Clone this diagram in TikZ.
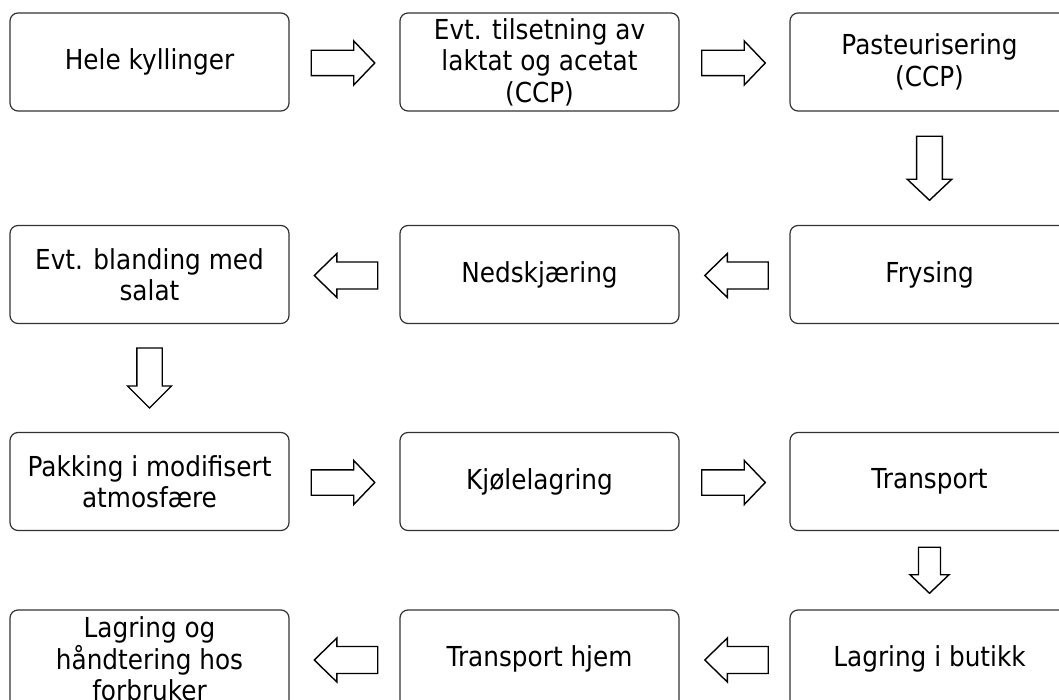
\documentclass[tikz,border=0pt]{standalone}
\usepackage{fontspec}
\setmainfont{DejaVu Sans}[FakeStretch=0.9]
\usetikzlibrary{calc}
\tikzset{
  box/.style={draw=black!80, line width=1.2pt, rounded corners=8pt,
    minimum width=279pt, minimum height=98pt, inner sep=0pt, align=center,
    font=\fontsize{27.5}{31.5}\selectfont},
  barrow/.style={draw=black, line width=1.4pt, fill=white, line join=miter},
}
% #1 centre, #2 rotation, #3 length, #4 shaft half width, #5 head half width, #6 head length
\newcommand{\blockarr}[6]{%
  \draw[barrow,shift={#1},rotate=#2] ({-#3/2},{-#4}) -- ({#3/2-#6},{-#4}) -- ({#3/2-#6},{-#5})
    -- ({#3/2},0) -- ({#3/2-#6},{#5}) -- ({#3/2-#6},{#4}) -- ({-#3/2},{#4}) -- cycle;}
\begin{document}
\begin{tikzpicture}[x=1pt,y=-1pt]
\useasboundingbox (0,0) rectangle (1059,700);
% row 1
\node[box] (a1) at (149.5,62) {Hele kyllinger};
\node[box] (a2) at (539.5,62) {Evt. tilsetning av\\laktat og acetat\\(CCP)};
\node[box] (a3) at (929.5,62) {Pasteurisering\\(CCP)};
% row 2
\node[box] (b1) at (149.5,274.5) {Evt. blanding med\\salat};
\node[box] (b2) at (539.5,274.5) {Nedskjæring};
\node[box] (b3) at (929.5,274.5) {Frysing};
% row 3
\node[box] (c1) at (149.5,481.5) {Pakking i modifisert\\atmosfære};
\node[box] (c2) at (539.5,481.5) {Kjølelagring};
\node[box] (c3) at (929.5,481.5) {Transport};
% row 4
\node[box] (d1) at (149.5,659) {Lagring og\\håndtering hos\\forbruker};
\node[box] (d2) at (539.5,659) {Transport hjem};
\node[box] (d3) at (929.5,659) {Lagring i butikk};
% arrows
\blockarr{($(a1.east)!0.5!(a2.west)+(-1.5,1)$)}{0}{63.5}{12.7}{22}{21}
\blockarr{($(a2.east)!0.5!(a3.west)+(-1,1)$)}{0}{63.5}{12.7}{22}{21}
\blockarr{($(a3.south)!0.5!(b3.north)$)}{-90}{64}{12.9}{22.3}{21}
\blockarr{($(b3.west)!0.5!(b2.east)+(2,1)$)}{180}{63.5}{13.5}{22}{22.6}
\blockarr{($(b2.west)!0.5!(b1.east)+(1.5,1)$)}{180}{63.5}{13.5}{22}{22.6}
\blockarr{($(b1.south)!0.5!(c1.north)$)}{-90}{60}{12.7}{22}{22}
\blockarr{($(c1.east)!0.5!(c2.west)+(-1.5,1)$)}{0}{63.5}{12.7}{22}{21}
\blockarr{($(c2.east)!0.5!(c3.west)+(-1,1)$)}{0}{63.5}{12.7}{22}{21}
\blockarr{($(c3.south)!0.5!(d3.north)$)}{-90}{46}{11}{19.5}{18.5}
\blockarr{($(d3.west)!0.5!(d2.east)+(2,1)$)}{180}{63.5}{13.5}{22}{22.6}
\blockarr{($(d2.west)!0.5!(d1.east)+(1.5,1)$)}{180}{63.5}{13.5}{22}{22.6}
\end{tikzpicture}
\end{document}
